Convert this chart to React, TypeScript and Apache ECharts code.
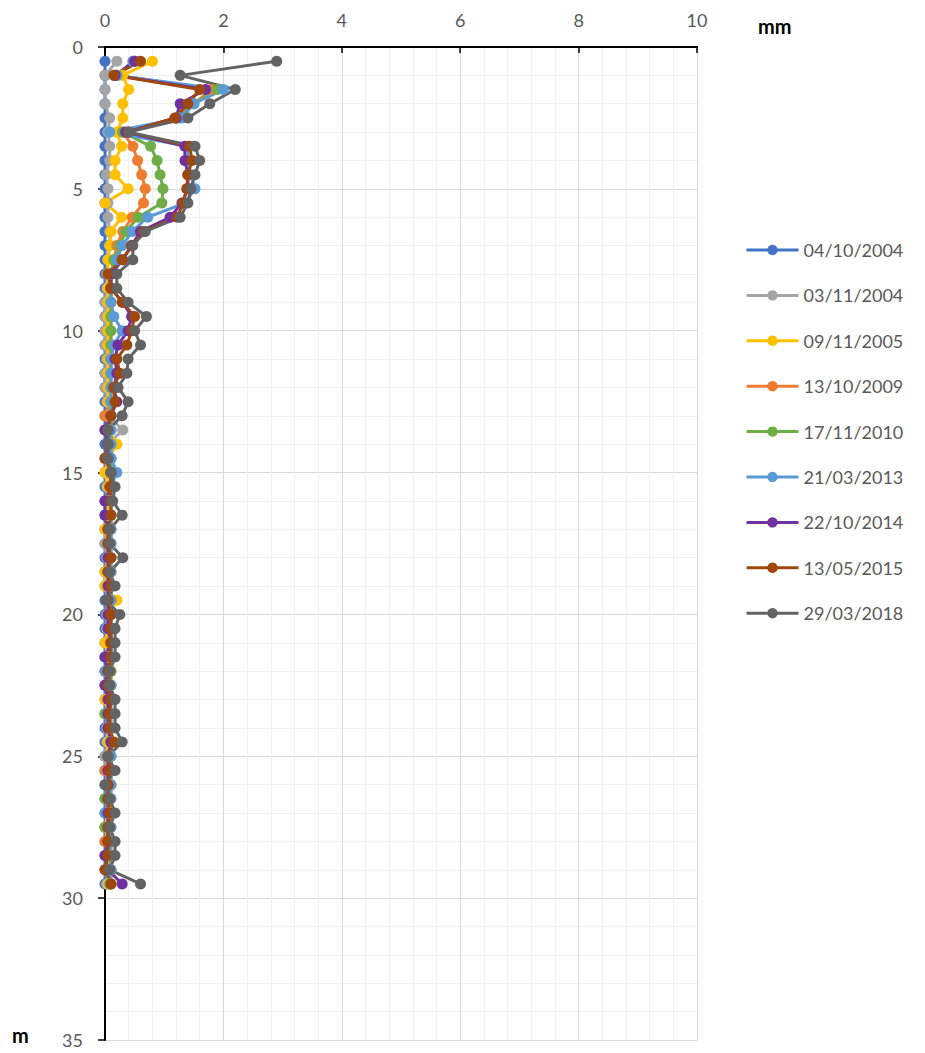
import React, { useEffect, useRef } from "react";
import * as echarts from "echarts";

const depths = [0.5,1,1.5,2,2.5,3,3.5,4,4.5,5,5.5,6,6.5,7,7.5,8,8.5,9,9.5,10,10.5,11,11.5,12,12.5,13,13.5,14,14.5,15,15.5,16,16.5,17,17.5,18,18.5,19,19.5,20,20.5,21,21.5,22,22.5,23,23.5,24,24.5,25,25.5,26,26.5,27,27.5,28,28.5,29,29.5];

const seriesNames = ["04/10/2004","03/11/2004","09/11/2005","13/10/2009","17/11/2010","21/03/2013","22/10/2014","13/05/2015","29/03/2018"];
const seriesColors = ["#4472C4","#A5A5A5","#FFC000","#ED7D31","#70AD47","#5B9BD5","#7030A0","#9E480E","#636363"];

const s2004a = [0,0,0,0,0,0,0,0,0,0,0,0,0,0,0,0,0,0,0,0,0,0,0,0,0,0,0,0,0,0,0,0,0,0,0,0,0,0,0,0,0,0,0,0,0,0,0,0,0,0,0,0,0,0,0,0,0,0,0];
const s2004b = [0.2,0,0,0,0.08,0.05,0.08,0.08,0.02,0.05,0.05,0.05,0.08,0.08,0.05,0.03,0.03,0,0,0,0,0.03,0,0,0.03,0.05,0.3,0.05,0.03,0.03,0.03,0.03,0.03,0.03,0,0.03,0.03,0.03,0.03,0.03,0.03,0.03,0.03,0.03,0.03,0.03,0.03,0.03,0.03,0,0.03,0.03,0.03,0.03,0.03,0.03,0.03,0.03,0.03];
const s2005 = [0.8,0.3,0.4,0.3,0.3,0.2,0.28,0.17,0.17,0.39,0,0.28,0.1,0.08,0.05,0.05,0.05,0.05,0.05,0.05,0.05,0.05,0.05,0.05,0.05,0.05,0.05,0.2,0.05,0,0.05,0.05,0.05,0,0.05,0.05,0,0,0.2,0.05,0.05,0,0.05,0.05,0.05,0,0.05,0.05,0.05,0.05,0.05,0.05,0.05,0.05,0,0.05,0.05,0.05,0.05];
const s2009 = [0.5,0.2,1.8,1.5,1.2,0.3,0.47,0.55,0.62,0.68,0.65,0.46,0.3,0.2,0.15,0.1,0.1,0.1,0.1,0.1,0.1,0.1,0.1,0.1,0.1,0,0.1,0.1,0.1,0.1,0.1,0.1,0.1,0.1,0.1,0.1,0.1,0.1,0.1,0.1,0.1,0.1,0.1,0.1,0.1,0.1,0.1,0.1,0.1,0.1,0,0.1,0.1,0.1,0.1,0,0.1,0.1,0.1];
const s2010 = [0.5,0.2,1.9,1.5,1.25,0.3,0.77,0.88,0.93,0.98,0.96,0.56,0.35,0.25,0.15,0.1,0.1,0.1,0.1,0.1,0.1,0.1,0.1,0.1,0.1,0.1,0.1,0.1,0.1,0.1,0.1,0.1,0.1,0.1,0.1,0.1,0.1,0.1,0.1,0.1,0.1,0.1,0.1,0.1,0.1,0.1,0,0.1,0.1,0.1,0.1,0.1,0,0.1,0,0.1,0.1,0.1,0.1];
const s2013 = [0.47,0.2,2.0,1.5,1.3,0.08,1.4,1.4,1.45,1.52,1.35,0.72,0.46,0.29,0.2,0.1,0.1,0.1,0.15,0.29,0.15,0.1,0.1,0.1,0.1,0.1,0.1,0.1,0.1,0.2,0.1,0.1,0.1,0.1,0.1,0.1,0.1,0.1,0.1,0.1,0.1,0.1,0.1,0,0.1,0.1,0.1,0.1,0.1,0.1,0.1,0.1,0.1,0,0.1,0.1,0.1,0.1,0.08];
const s2014 = [0.5,0.17,1.7,1.27,1.2,0.35,1.35,1.35,1.4,1.4,1.3,1.1,0.6,0.45,0.3,0.1,0.1,0.3,0.45,0.39,0.22,0.17,0.2,0.15,0.2,0.1,0,0.05,0.05,0.1,0.1,0,0,0.05,0.05,0.05,0.05,0.05,0.05,0.05,0.05,0.1,0,0.05,0,0.05,0.05,0.05,0.1,0.05,0.05,0.05,0.05,0.05,0.05,0.05,0,0.05,0.29];
const s2015 = [0.6,0.15,1.6,1.4,1.18,0.39,1.43,1.47,1.4,1.38,1.32,1.22,0.65,0.45,0.29,0.05,0.1,0.29,0.5,0.45,0.37,0.2,0.25,0.15,0.17,0.1,0.05,0.05,0,0.1,0.08,0.1,0.1,0.05,0.05,0.1,0.05,0.1,0.05,0.1,0.1,0.1,0.1,0.05,0.05,0.1,0.08,0.08,0.15,0.05,0.08,0.05,0.05,0.08,0.05,0.05,0.05,0,0.1];
const s2018 = [2.9,1.27,2.2,1.77,1.4,0.4,1.52,1.6,1.52,1.45,1.4,1.27,0.68,0.47,0.47,0.2,0.2,0.39,0.7,0.5,0.6,0.39,0.37,0.22,0.39,0.29,0.05,0.05,0.05,0.1,0.17,0.13,0.29,0.08,0.08,0.3,0.08,0.17,0.02,0.25,0.17,0.17,0.17,0.08,0.08,0.17,0.17,0.17,0.29,0.05,0.17,0,0.08,0.17,0.08,0.17,0.17,0.08,0.6];

const seriesValues = [s2004a, s2004b, s2005, s2009, s2010, s2013, s2014, s2015, s2018];

const xTicks = { min: 0, max: 10, interval: 2 };
const yTicks = { min: 0, max: 35, interval: 5 };

const FONT = "Lato, 'Open Sans', sans-serif";

export default function App() {
  const ref = useRef<HTMLDivElement>(null);
  useEffect(() => {
    if (!ref.current) return;
    const chart = echarts.init(ref.current, null, { renderer: "svg" });
    const series = seriesNames.map((name, i) => ({
      name,
      type: "line",
      data: seriesValues[i].map((v, j) => [v, depths[j]]),
      symbol: "circle",
      symbolSize: 11,
      showSymbol: true,
      color: seriesColors[i],
      lineStyle: { width: 3, color: seriesColors[i] },
      itemStyle: { color: seriesColors[i] },
      emphasis: { disabled: true },
    }));
    chart.setOption({
      animation: false,
      backgroundColor: "#ffffff",
      grid: { left: 105, top: 47, width: 592, height: 993, containLabel: false },
      xAxis: {
        type: "value",
        position: "top",
        min: xTicks.min,
        max: xTicks.max,
        interval: xTicks.interval,
        axisLine: { show: true, onZero: false, lineStyle: { color: "#000000", width: 2 } },
        axisTick: { show: true, inside: true, length: 6, lineStyle: { color: "#000000", width: 1.5 } },
        axisLabel: { color: "#595959", fontSize: 18, fontFamily: FONT, margin: 18 },
        splitLine: { show: true, lineStyle: { color: "#D9D9D9", width: 1 } },
        minorTick: { show: false, splitNumber: 5 },
        minorSplitLine: { show: true, lineStyle: { color: "#F0F0F0", width: 1 } },
      },
      yAxis: {
        type: "value",
        inverse: true,
        min: yTicks.min,
        max: yTicks.max,
        interval: yTicks.interval,
        axisLine: { show: true, onZero: false, lineStyle: { color: "#000000", width: 2 } },
        axisTick: { show: true, inside: false, length: 7, lineStyle: { color: "#000000", width: 1.5 } },
        axisLabel: { color: "#595959", fontSize: 18, fontFamily: FONT, margin: 22 },
        splitLine: { show: true, lineStyle: { color: "#D9D9D9", width: 1 } },
        minorTick: { show: false, splitNumber: 5 },
        minorSplitLine: { show: true, lineStyle: { color: "#F0F0F0", width: 1 } },
      },
      legend: {
        orient: "vertical",
        left: 740,
        top: 236,
        itemWidth: 52,
        itemHeight: 13,
        itemGap: 27.4,
        lineStyle: { width: 3 },
        textStyle: { color: "#595959", fontSize: 18, fontFamily: FONT, lineHeight: 18 },
        data: seriesNames,
      },
      graphic: [
        { type: "text", left: 758, top: 16, style: { text: "mm", fontSize: 20, fontWeight: "bold", fontFamily: FONT, fill: "#000000" } },
        { type: "text", left: 12, top: 1025, style: { text: "m", fontSize: 20, fontWeight: "bold", fontFamily: FONT, fill: "#000000" } },
      ],
      series,
    });
    return () => chart.dispose();
  }, []);
  return <div ref={ref} style={{ position: "absolute", left: 0, top: 0, width: 925, height: 1053 }} />;
}
